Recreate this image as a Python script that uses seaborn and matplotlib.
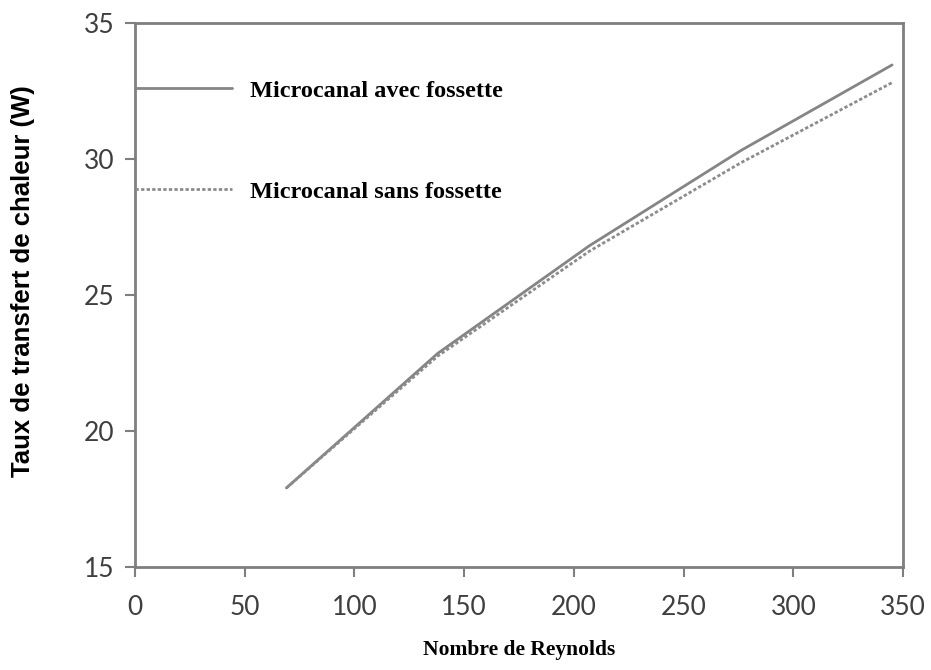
import numpy as np
import pandas as pd
import seaborn as sns
import matplotlib.pyplot as plt

# Values
reynolds = [69, 138, 207, 276, 345]
avec_fossette = [17.9, 22.85, 26.8, 30.3, 33.45]
sans_fossette = [17.9, 22.75, 26.6, 29.85, 32.8]
labels = ['Microcanal avec fossette', 'Microcanal sans fossette']

df = pd.DataFrame({
    'Re': reynolds * 2,
    'Q': avec_fossette + sans_fossette,
    'Serie': [labels[0]] * len(reynolds) + [labels[1]] * len(reynolds),
})

sns.set_theme(style="white")
plt.rcParams['font.family'] = ['Lato', 'DejaVu Sans']

fig = plt.figure(figsize=(9.31, 6.70), dpi=100)
ax = fig.add_axes([0.145, 0.154, 0.825, 0.812])

sns.lineplot(data=df, x='Re', y='Q', hue='Serie', style='Serie',
             palette=['#858585', '#8c8c8c'], dashes=[(), (1.2, 0.8)],
             linewidth=2.0, ax=ax)

ax.set_xlim(0, 350)
ax.set_ylim(15, 35)
ax.set_xticks(np.arange(0, 351, 50))
ax.set_yticks(np.arange(15, 36, 5))
ax.tick_params(axis='both', direction='out', length=7, width=1.5,
               color='#7f7f7f', labelsize=19, labelcolor='#3f3f3f', pad=13,
               bottom=True, left=True)
ax.tick_params(axis='y', pad=8)
for s in ax.spines.values():
    s.set_color('#7f7f7f')
    s.set_linewidth(2)

ax.set_xlabel('Nombre de Reynolds', fontfamily='Liberation Serif',
              fontweight='bold', fontsize=15.5, color='black', labelpad=15)
ax.set_ylabel('Taux de transfert de chaleur (W)', fontfamily='Liberation Sans',
              fontweight='bold', fontsize=18.5, color='black')
ax.yaxis.set_label_coords(-0.13, 0.526)

leg = ax.legend(loc='upper left', bbox_to_anchor=(0, 0.895), frameon=False,
                borderaxespad=0, borderpad=0, handlelength=4.0,
                handletextpad=0.75, labelspacing=3.25,
                prop={'family': 'Liberation Serif', 'weight': 'bold', 'size': 17.5})
for t in leg.get_texts():
    t.set_color('black')

plt.savefig('out.png', dpi=100)
